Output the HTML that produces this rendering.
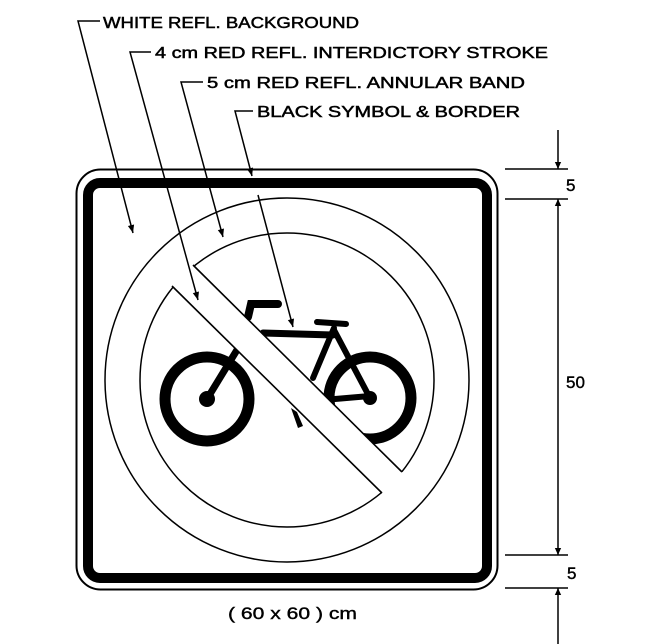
<!DOCTYPE html>
<html><head><style>html,body{margin:0;padding:0;background:#fff}svg{display:block}</style></head>
<body>
<svg width="658" height="644" viewBox="0 0 658 644" xmlns="http://www.w3.org/2000/svg" font-family="Liberation Sans, sans-serif">
<defs>
<marker id="ah" viewBox="0 0 10 10" refX="10" refY="5" markerWidth="16" markerHeight="8" orient="auto" markerUnits="userSpaceOnUse">
<path d="M0,1 L10,5 L0,9 z" fill="#000"/></marker>
<marker id="ah2" viewBox="0 0 10 10" refX="10" refY="5" markerWidth="18" markerHeight="7" orient="auto" markerUnits="userSpaceOnUse">
<path d="M0,0.5 L10,5 L0,9.5 z" fill="#000"/></marker>
<clipPath id="ic"><circle cx="287" cy="380" r="149"/></clipPath>
</defs>
<!-- sign -->
<rect x="76.5" y="169.5" width="421" height="420" rx="24" fill="none" stroke="#000" stroke-width="2"/>
<rect x="88" y="183" width="399" height="395" rx="12" fill="none" stroke="#000" stroke-width="10"/>
<circle cx="287" cy="380" r="182" fill="none" stroke="#000" stroke-width="1.5"/>
<circle cx="287" cy="380" r="147" fill="none" stroke="#000" stroke-width="1.5"/>
<!-- bicycle -->
<g fill="none" stroke="#000" stroke-linecap="round">
<circle cx="207" cy="399" r="42" stroke-width="11"/>
<circle cx="370" cy="398" r="41" stroke-width="11"/>
<line x1="207" y1="399" x2="240" y2="345" stroke-width="7"/>
<path d="M248,317 L251,304 L278,304" stroke-width="8"/>
<line x1="263" y1="333" x2="333" y2="335" stroke-width="7"/>
<line x1="317" y1="322" x2="346" y2="324" stroke-width="6"/>
<line x1="334" y1="328" x2="313" y2="378" stroke-width="6"/>
<line x1="334" y1="330" x2="370" y2="398" stroke-width="6"/>
<line x1="335" y1="399" x2="370" y2="396" stroke-width="6"/>
</g>
<circle cx="207" cy="399" r="8"/>
<circle cx="370" cy="398" r="7"/>
<path d="M291,408 L297,412 L303,426 L298,428 Z"/>
<!-- interdictory stroke (white band) -->
<g clip-path="url(#ic)">
<polygon points="150,243 172,286 382,493 440,520 460,500 402,472 193,265 170,220" fill="#fff"/>
</g>
<path d="M193,265 L402,472" stroke="#000" stroke-width="1.6" fill="none"/>
<path d="M172,286 L382,493" stroke="#000" stroke-width="1.6" fill="none"/>
<!-- leaders -->
<g stroke="#000" stroke-width="1.5" fill="none">
<path d="M100,21 L78,21 L133,233" marker-end="url(#ah)"/>
<path d="M151,52 L130,52 L198,300" marker-end="url(#ah)"/>
<path d="M203,82 L181,82 L223,237" marker-end="url(#ah)"/>
<path d="M253,111 L235,111 L252,176" marker-end="url(#ah)"/>
<path d="M258,195 L293,327" marker-end="url(#ah)"/>
</g>
<g font-size="16" fill="#000" stroke="#000" stroke-width="0.5">
<text x="103" y="28" textLength="256" lengthAdjust="spacingAndGlyphs">WHITE REFL. BACKGROUND</text>
<text x="155" y="58" textLength="393" lengthAdjust="spacingAndGlyphs">4 cm RED REFL. INTERDICTORY STROKE</text>
<text x="207" y="88" textLength="318" lengthAdjust="spacingAndGlyphs">5 cm RED REFL. ANNULAR BAND</text>
<text x="257" y="117" textLength="263" lengthAdjust="spacingAndGlyphs">BLACK SYMBOL &amp; BORDER</text>
</g>
<!-- dimensions -->
<g stroke="#000" stroke-width="1.5" fill="none">
<line x1="505" y1="169" x2="568" y2="169"/>
<line x1="505" y1="199" x2="568" y2="199"/>
<line x1="505" y1="555" x2="568" y2="555"/>
<line x1="505" y1="588" x2="568" y2="588"/>
<line x1="558" y1="130" x2="558" y2="169" marker-end="url(#ah2)"/>
<line x1="558" y1="377" x2="558" y2="199" marker-end="url(#ah2)"/>
<line x1="558" y1="377" x2="558" y2="555" marker-end="url(#ah2)"/>
<line x1="558" y1="644" x2="558" y2="588" marker-end="url(#ah2)"/>
</g>
<g font-size="17" fill="#000" stroke="#000" stroke-width="0.4">
<text x="566" y="191">5</text>
<text x="566" y="388">50</text>
<text x="567" y="579">5</text>
<text x="228" y="619" textLength="129" lengthAdjust="spacingAndGlyphs">( 60 x 60 ) cm</text>
</g>
</svg>
</body></html>
